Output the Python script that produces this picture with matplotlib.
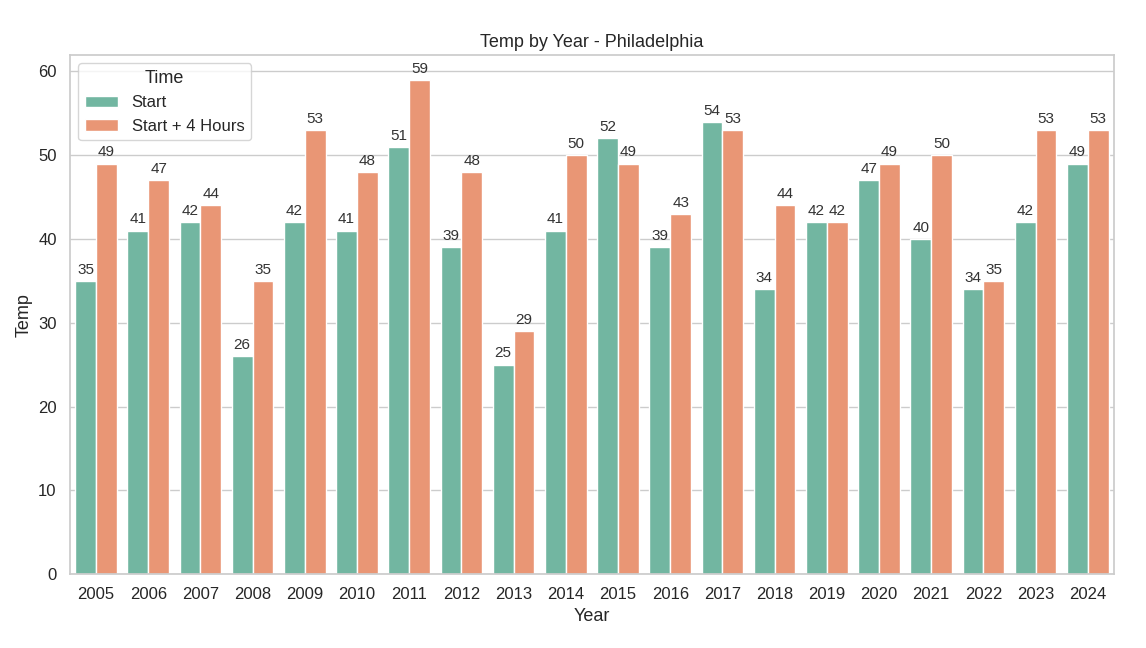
import numpy as np
import pandas as pd
import matplotlib
matplotlib.use("Agg")
import matplotlib.pyplot as plt
import seaborn as sns

# Werte
years = [str(y) for y in range(2005, 2025)]
start = [35, 41, 42, 26, 42, 41, 51, 39, 25, 41, 52, 39, 54, 34, 42, 47, 40, 34, 42, 49]
start_4h = [49, 47, 44, 35, 53, 48, 59, 48, 29, 50, 49, 43, 53, 44, 42, 49, 50, 35, 53, 53]

df = pd.DataFrame({
    "Year": years * 2,
    "Temp": start + start_4h,
    "Time": ["Start"] * len(years) + ["Start + 4 Hours"] * len(years),
})

sns.set_theme(style="whitegrid")
plt.rcParams['font.family'] = ['Liberation Sans', 'DejaVu Sans']

fig = plt.figure(figsize=(11.46, 6.48), dpi=100)
ax = fig.add_axes([0.061, 0.114, 0.911, 0.801])

sns.barplot(data=df, x="Year", y="Temp", hue="Time", palette="Set2", ax=ax)

for c in ax.containers:
    ax.bar_label(c, fmt="%d", padding=3, fontsize=11, color="#333333")

ax.set_title("Temp by Year - Philadelphia", fontsize=13)
ax.set_xlabel("Year", fontsize=13)
ax.set_ylabel("Temp", fontsize=13)
ax.tick_params(labelsize=12)
ax.legend(title="Time", loc="upper left", fontsize=12, title_fontsize=13)

plt.savefig("out.png", dpi=100)
